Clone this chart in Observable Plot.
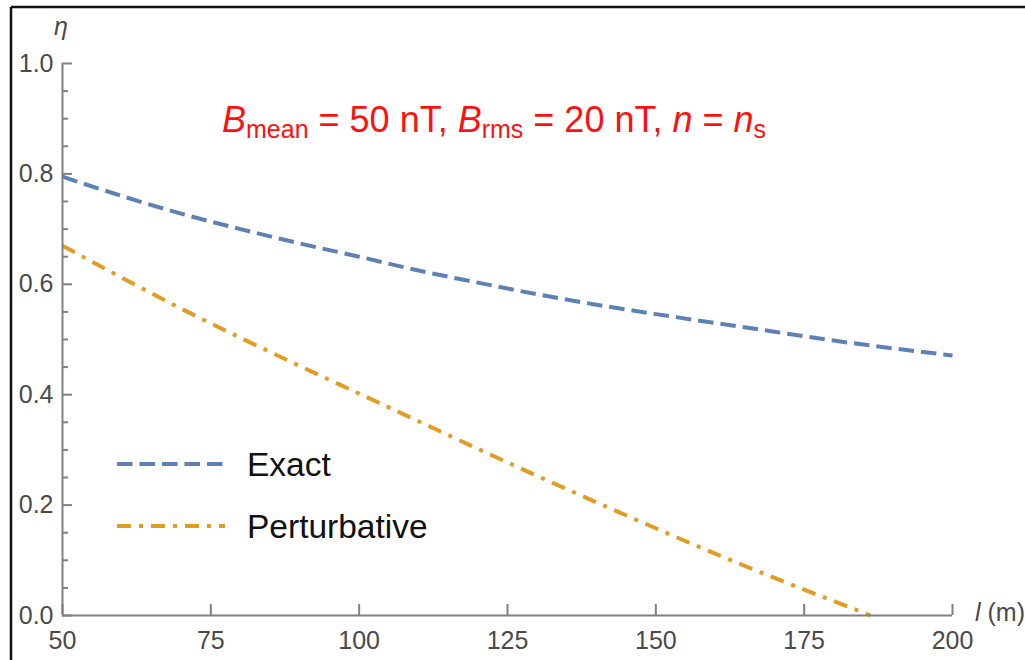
<!DOCTYPE html>
<html>
<head>
<meta charset="utf-8">
<script src="https://cdn.jsdelivr.net/npm/d3@7"></script>
<script src="https://cdn.jsdelivr.net/npm/@observablehq/plot@0.6"></script>
<style>
html, body { margin: 0; padding: 0; background: #fff; }
#wrap { position: relative; width: 1025px; height: 660px; overflow: hidden; background: #fff; }
#wrap > svg { position: absolute; left: 0; top: 0; }
#overlay { position: absolute; left: 0; top: 0; pointer-events: none; }
</style>
</head>
<body>
<div id="wrap"></div>
<script>
// ---- data ----
const exactLengths = [50, 60, 70, 80, 90, 100, 110, 120, 130, 140, 150, 160, 170, 180, 190, 200];
const exactEta     = [0.795, 0.760, 0.728, 0.700, 0.674, 0.650, 0.625, 0.603, 0.582, 0.563, 0.546, 0.530, 0.514, 0.498, 0.484, 0.471];
const pertLengths  = [50, 60, 70, 80, 90, 100, 110, 120, 130, 140, 150, 160, 170, 180, 186.2];
const pertEta      = [0.670, 0.612, 0.556, 0.503, 0.452, 0.402, 0.352, 0.302, 0.253, 0.205, 0.158, 0.112, 0.068, 0.026, 0.0];
const xTicks = [50, 75, 100, 125, 150, 175, 200];
const yTicks = [0, 0.2, 0.4, 0.6, 0.8, 1.0];
const yMinorTicks = [0.05, 0.1, 0.15, 0.25, 0.3, 0.35, 0.45, 0.5, 0.55, 0.65, 0.7, 0.75, 0.85, 0.9, 0.95];
const seriesNames = ["Exact", "Perturbative"];
const seriesColors = ["#5E81B5", "#E19C24"];
const seriesDashes = ["15.5,7", "14,8,4,8"];

const exact = exactLengths.map((l, i) => ({l, eta: exactEta[i]}));
const pert = pertLengths.map((l, i) => ({l, eta: pertEta[i]}));

const axisColor = "#808080";
const textColor = "#4a4a4a";
const font = '"Liberation Sans", Arial, sans-serif';

const chart = Plot.plot({
  width: 1025,
  height: 660,
  marginLeft: 62,
  marginRight: 73,
  marginTop: 63,
  marginBottom: 45,
  style: {fontFamily: font, fontSize: "25px", color: textColor, background: "transparent"},
  x: {domain: [50, 200]},
  y: {domain: [0, 1]},
  marks: [
    Plot.line(exact, {x: "l", y: "eta", stroke: seriesColors[0], strokeWidth: 4, strokeDasharray: seriesDashes[0], strokeLinecap: "butt", curve: "monotone-x"}),
    Plot.line(pert, {x: "l", y: "eta", stroke: seriesColors[1], strokeWidth: 4, strokeDasharray: seriesDashes[1], strokeLinecap: "butt", curve: "monotone-x"}),
    Plot.axisY(yMinorTicks, {tickSize: -6, tickFormat: () => "", label: null, stroke: axisColor, strokeWidth: 2}),
    Plot.axisY(yTicks, {tickSize: -10, tickPadding: 19, tickFormat: d3.format(".1f"), label: null, stroke: axisColor, strokeWidth: 2, fill: textColor}),
    Plot.axisX(xTicks, {tickSize: -11, tickPadding: 27, tickFormat: d3.format("d"), label: null, stroke: axisColor, strokeWidth: 2, fill: textColor}),
    Plot.ruleX([50], {stroke: axisColor, strokeWidth: 2}),
    Plot.ruleY([0], {stroke: axisColor, strokeWidth: 2})
  ]
});
const wrap = document.getElementById("wrap");
wrap.appendChild(chart);

// ---- overlay: frame, title, legend, axis labels ----
const ov = d3.select(wrap).append("svg").attr("id", "overlay").attr("width", 1025).attr("height", 660)
  .style("font-family", font);

// partial frame (top and left edges visible in the reference)
ov.append("line").attr("x1", 11).attr("x2", 1025).attr("y1", 7).attr("y2", 7).attr("stroke", "#111").attr("stroke-width", 2.5);
ov.append("line").attr("x1", 11).attr("x2", 11).attr("y1", 7).attr("y2", 660).attr("stroke", "#111").attr("stroke-width", 2.5);

// title
const title = ov.append("text").attr("x", 222).attr("y", 132).attr("fill", "#ff1010").attr("font-size", 36);
const titleParts = [
  {t: "B", italic: true}, {t: "mean", sub: true}, {t: " = 50 nT, "},
  {t: "B", italic: true}, {t: "rms", sub: true}, {t: " = 20 nT, "},
  {t: "n", italic: true}, {t: " = "}, {t: "n", italic: true}, {t: "s", sub: true}
];
let inSub = false;
for (const p of titleParts) {
  const ts = title.append("tspan").text(p.t);
  if (p.italic) ts.attr("font-style", "italic");
  if (p.sub && !inSub) { ts.attr("dy", 6).attr("font-size", 25); inSub = true; }
  else if (p.sub) { ts.attr("font-size", 25); }
  else if (inSub) { ts.attr("dy", -6); inSub = false; }
}

// legend
const legendY = [464, 526];
seriesNames.forEach((name, i) => {
  ov.append("line").attr("x1", 117).attr("x2", 225).attr("y1", legendY[i]).attr("y2", legendY[i])
    .attr("stroke", seriesColors[i]).attr("stroke-width", 4).attr("stroke-dasharray", seriesDashes[i]);
  ov.append("text").attr("x", 247).attr("y", legendY[i] + 12).attr("font-size", 33.5).attr("fill", "#111").text(name);
});

// axis labels
ov.append("text").attr("x", 54).attr("y", 35).attr("font-size", 25).attr("font-style", "italic").attr("fill", textColor).text("η");
const xl = ov.append("text").attr("x", 975).attr("y", 621).attr("font-size", 25).attr("fill", textColor);
xl.append("tspan").attr("font-style", "italic").text("l");
xl.append("tspan").text(" (m)");
</script>
</body>
</html>
